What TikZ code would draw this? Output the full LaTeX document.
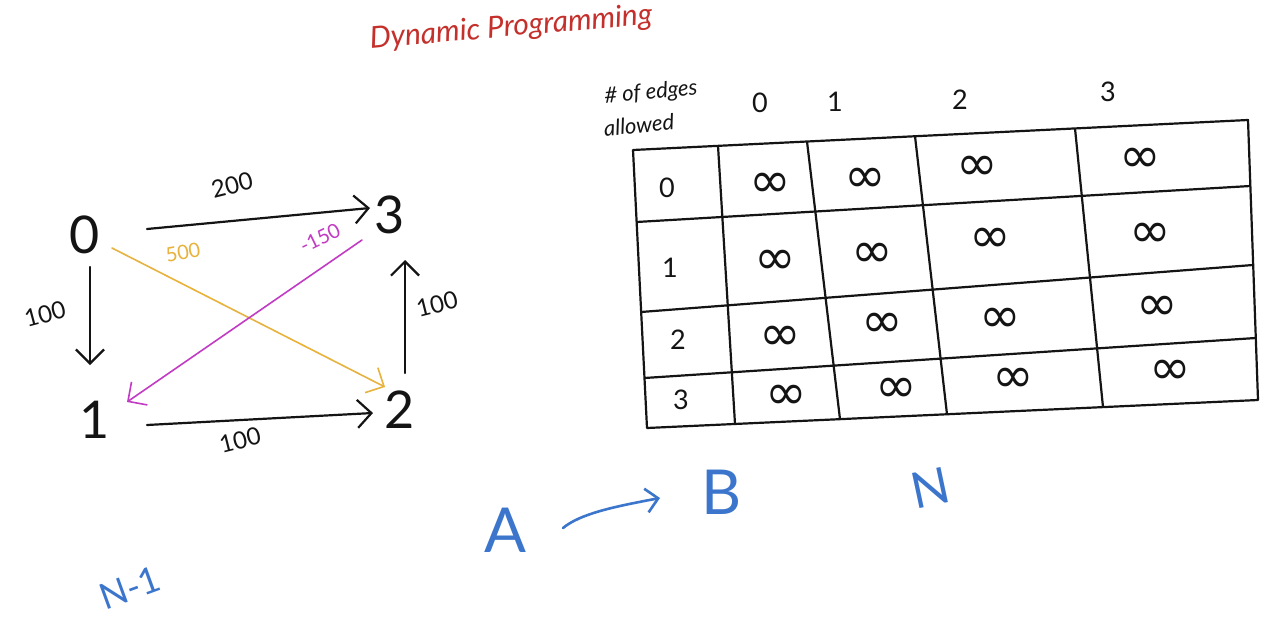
\documentclass[tikz,border=0pt]{standalone}
\usepackage{fontspec}
\setmainfont{Lato}
\newfontfamily\symfont{DejaVu Sans}
\usetikzlibrary{arrows.meta,calc}
\definecolor{inkblack}{HTML}{141414}
\definecolor{titlered}{HTML}{C4302B}
\definecolor{edgegold}{HTML}{E8B23C}
\definecolor{edgemag}{HTML}{C23BC4}
\definecolor{inkblue}{HTML}{3C76CC}
\tikzset{
  ink/.style={line width=2.2pt, draw=inkblack, line cap=round},
  arr/.style={ink, -{Straight Barb[length=14pt,width=28pt]}},
  vnode/.style={font=\fontsize{52}{52}\selectfont, text=inkblack, inner sep=0pt},
  wlabel/.style={font=\fontsize{24}{24}\selectfont, inner sep=0pt, text=inkblack},
  grid/.style={line width=2.2pt, draw=inkblack, line join=round},
  hdr/.style={font=\fontsize{27}{27}\selectfont, inner sep=0pt, text=inkblack},
  inf/.style={font=\symfont\fontsize{50}{50}\selectfont, inner sep=0pt, text=inkblack},
  blue/.style={text=inkblue, inner sep=0pt},
}
\begin{document}
\begin{tikzpicture}[x=1pt,y=-1pt]
\useasboundingbox[fill=white] (0,0) rectangle (1268,626);

% title
\node[text=titlered, font=\fontsize{30}{30}\selectfont\itshape, rotate=5, inner sep=0pt] (title) at (511,28) {Dynamic Programming};

% graph vertices
\node[vnode] (n0) at (85,235) {0};
\node[vnode] (n3) at (390,215) {3};
\node[vnode] (n1) at (95,420) {1};
\node[vnode] (n2) at (400,410) {2};

% edges
\draw[arr] ($(n0)+(62,-6)$) -- ($(n3)+(-20,-7)$);
\draw[arr] ($(n0)+(5,32)$) -- ($(n1)+(-5,-55)$);
\draw[arr] ($(n1)+(52,5)$) -- ($(n2)+(-27,3)$);
\draw[arr] ($(n2)+(5,-37)$) -- ($(n3)+(15,45)$);
\draw[arr, draw=edgegold, line width=1.6pt] ($(n0)+(27,13)$) -- ($(n2)+(-15,-23)$);
\draw[arr, draw=edgemag, line width=1.6pt] ($(n3)+(-28,25)$) -- ($(n1)+(32,-18)$);

% edge labels
\node[wlabel, rotate=14] (w03) at (232,185) {200};
\node[wlabel, rotate=15] (w01) at (45,314) {100};
\node[wlabel, rotate=14] (w12) at (240,440) {100};
\node[wlabel, rotate=14] (w23) at (437,304) {100};
\node[wlabel, rotate=10, text=edgegold, font=\fontsize{20}{20}\selectfont] (w02) at (183,252) {500};
\node[wlabel, rotate=26, text=edgemag, font=\fontsize{20}{20}\selectfont] (w31) at (320,238) {-150};

% table outline
\draw[grid] (633,150) -- (1248,120) -- (1258,400) -- (647,428) -- cycle;
% row separators
\draw[grid] (636.6,222) -- (1250.4,186);
\draw[grid] (641,312) -- (1253,265);
\draw[grid] (644.5,378) -- (1255.8,338);
% column separators
\draw[grid] (718,145.9) -- (735,424);
\draw[grid] (807,141.5) -- (840,419.2);
\draw[grid] (915,136.2) -- (947,414.3);
\draw[grid] (1075,128.4) -- (1103,407.1);

% table header
\node[font=\fontsize{22}{22}\selectfont\itshape, rotate=5, inner sep=0pt, text=inkblack] (hA) at (651,93) {\# of edges};
\node[font=\fontsize{22}{22}\selectfont\itshape, rotate=5, inner sep=0pt, text=inkblack] (hB) at (639,125) {allowed};
\node[hdr] (c0) at (760,103) {0};
\node[hdr] (c1) at (835,102) {1};
\node[hdr] (c2) at (960,100) {2};
\node[hdr] (c3) at (1108,92) {3};
\node[hdr] (r0) at (667,188) {0};
\node[hdr] (r1) at (670,268) {1};
\node[hdr] (r2) at (678,340) {2};
\node[hdr] (r3) at (681,400) {3};

% infinity cells
\node[inf] (i00) at (770,185) {∞};
\node[inf] (i01) at (865,180) {∞};
\node[inf] (i02) at (977,168) {∞};
\node[inf] (i03) at (1140,160) {∞};
\node[inf] (i10) at (775,262) {∞};
\node[inf] (i11) at (872,255) {∞};
\node[inf] (i12) at (990,240) {∞};
\node[inf] (i13) at (1150,235) {∞};
\node[inf] (i20) at (780,338) {∞};
\node[inf] (i21) at (882,325) {∞};
\node[inf] (i22) at (1000,320) {∞};
\node[inf] (i23) at (1157,308) {∞};
\node[inf] (i30) at (786,397) {∞};
\node[inf] (i31) at (896,390) {∞};
\node[inf] (i32) at (1013,380) {∞};
\node[inf] (i33) at (1170,372) {∞};

% blue annotations
\node[blue, font=\fontsize{36}{36}\selectfont, rotate=20] (nm1) at (130,588) {N-1};
\node[blue, font=\fontsize{62}{62}\selectfont] (A) at (505,530) {A};
\node[blue, font=\fontsize{62}{62}\selectfont] (B) at (722,492) {B};
\node[blue, font=\fontsize{50}{50}\selectfont, rotate=12] (N) at (930,488) {N};
\draw[line width=2.6pt, draw=inkblue, line cap=round, -{Straight Barb[length=12pt,width=24pt]}]
  ($(A)+(58,-2)$) .. controls ($(A)+(75,-16)$) and ($(B)+(-110,15)$) .. ($(B)+(-62,6)$);
\end{tikzpicture}
\end{document}
